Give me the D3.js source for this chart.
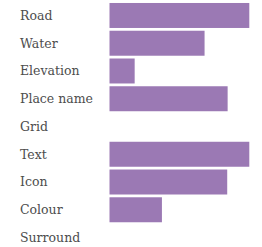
<!DOCTYPE html>
<html>
<head>
<meta charset="utf-8">
<script src="https://cdn.jsdelivr.net/npm/d3@7"></script>
<style>
  body { margin: 0; background: #fff; }
</style>
</head>
<body>
<div id="chart"></div>
<script>
// categories and values
const categories = ['Road', 'Water', 'Elevation', 'Place name', 'Grid', 'Text', 'Icon', 'Colour', 'Surround']
const values = [100, 68, 18, 84.5, 0, 100, 84.2, 37.5, 0]

const width = 262
const height = 247

const svg = d3.select('#chart')
  .append('svg')
  .attr('width', width)
  .attr('height', height)

// scales
const y = d3.scaleBand()
  .domain(categories)
  .range([1.6, 251.4])
  .paddingInner(0.1)
  .paddingOuter(0.05)

const x = d3.scaleLinear()
  .domain([0, d3.max(values)])
  .range([109.5, 249.3])

// bars
svg.selectAll('rect')
  .data(categories)
  .enter()
  .append('rect')
  .attr('x', x(0))
  .attr('y', d => y(d))
  .attr('width', (d, i) => x(values[i]) - x(0))
  .attr('height', y.bandwidth())
  .attr('fill', '#9b79b4')

// category labels
svg.selectAll('text.label')
  .data(categories)
  .enter()
  .append('text')
  .attr('class', 'label')
  .attr('x', 20)
  .attr('y', d => y(d) + y.bandwidth() / 2)
  .attr('dy', '0.35em')
  .attr('font-family', '"DejaVu Serif", serif')
  .attr('font-size', '12.5px')
  .attr('fill', '#4d4d4d')
  .text(d => d)
</script>
</body>
</html>
